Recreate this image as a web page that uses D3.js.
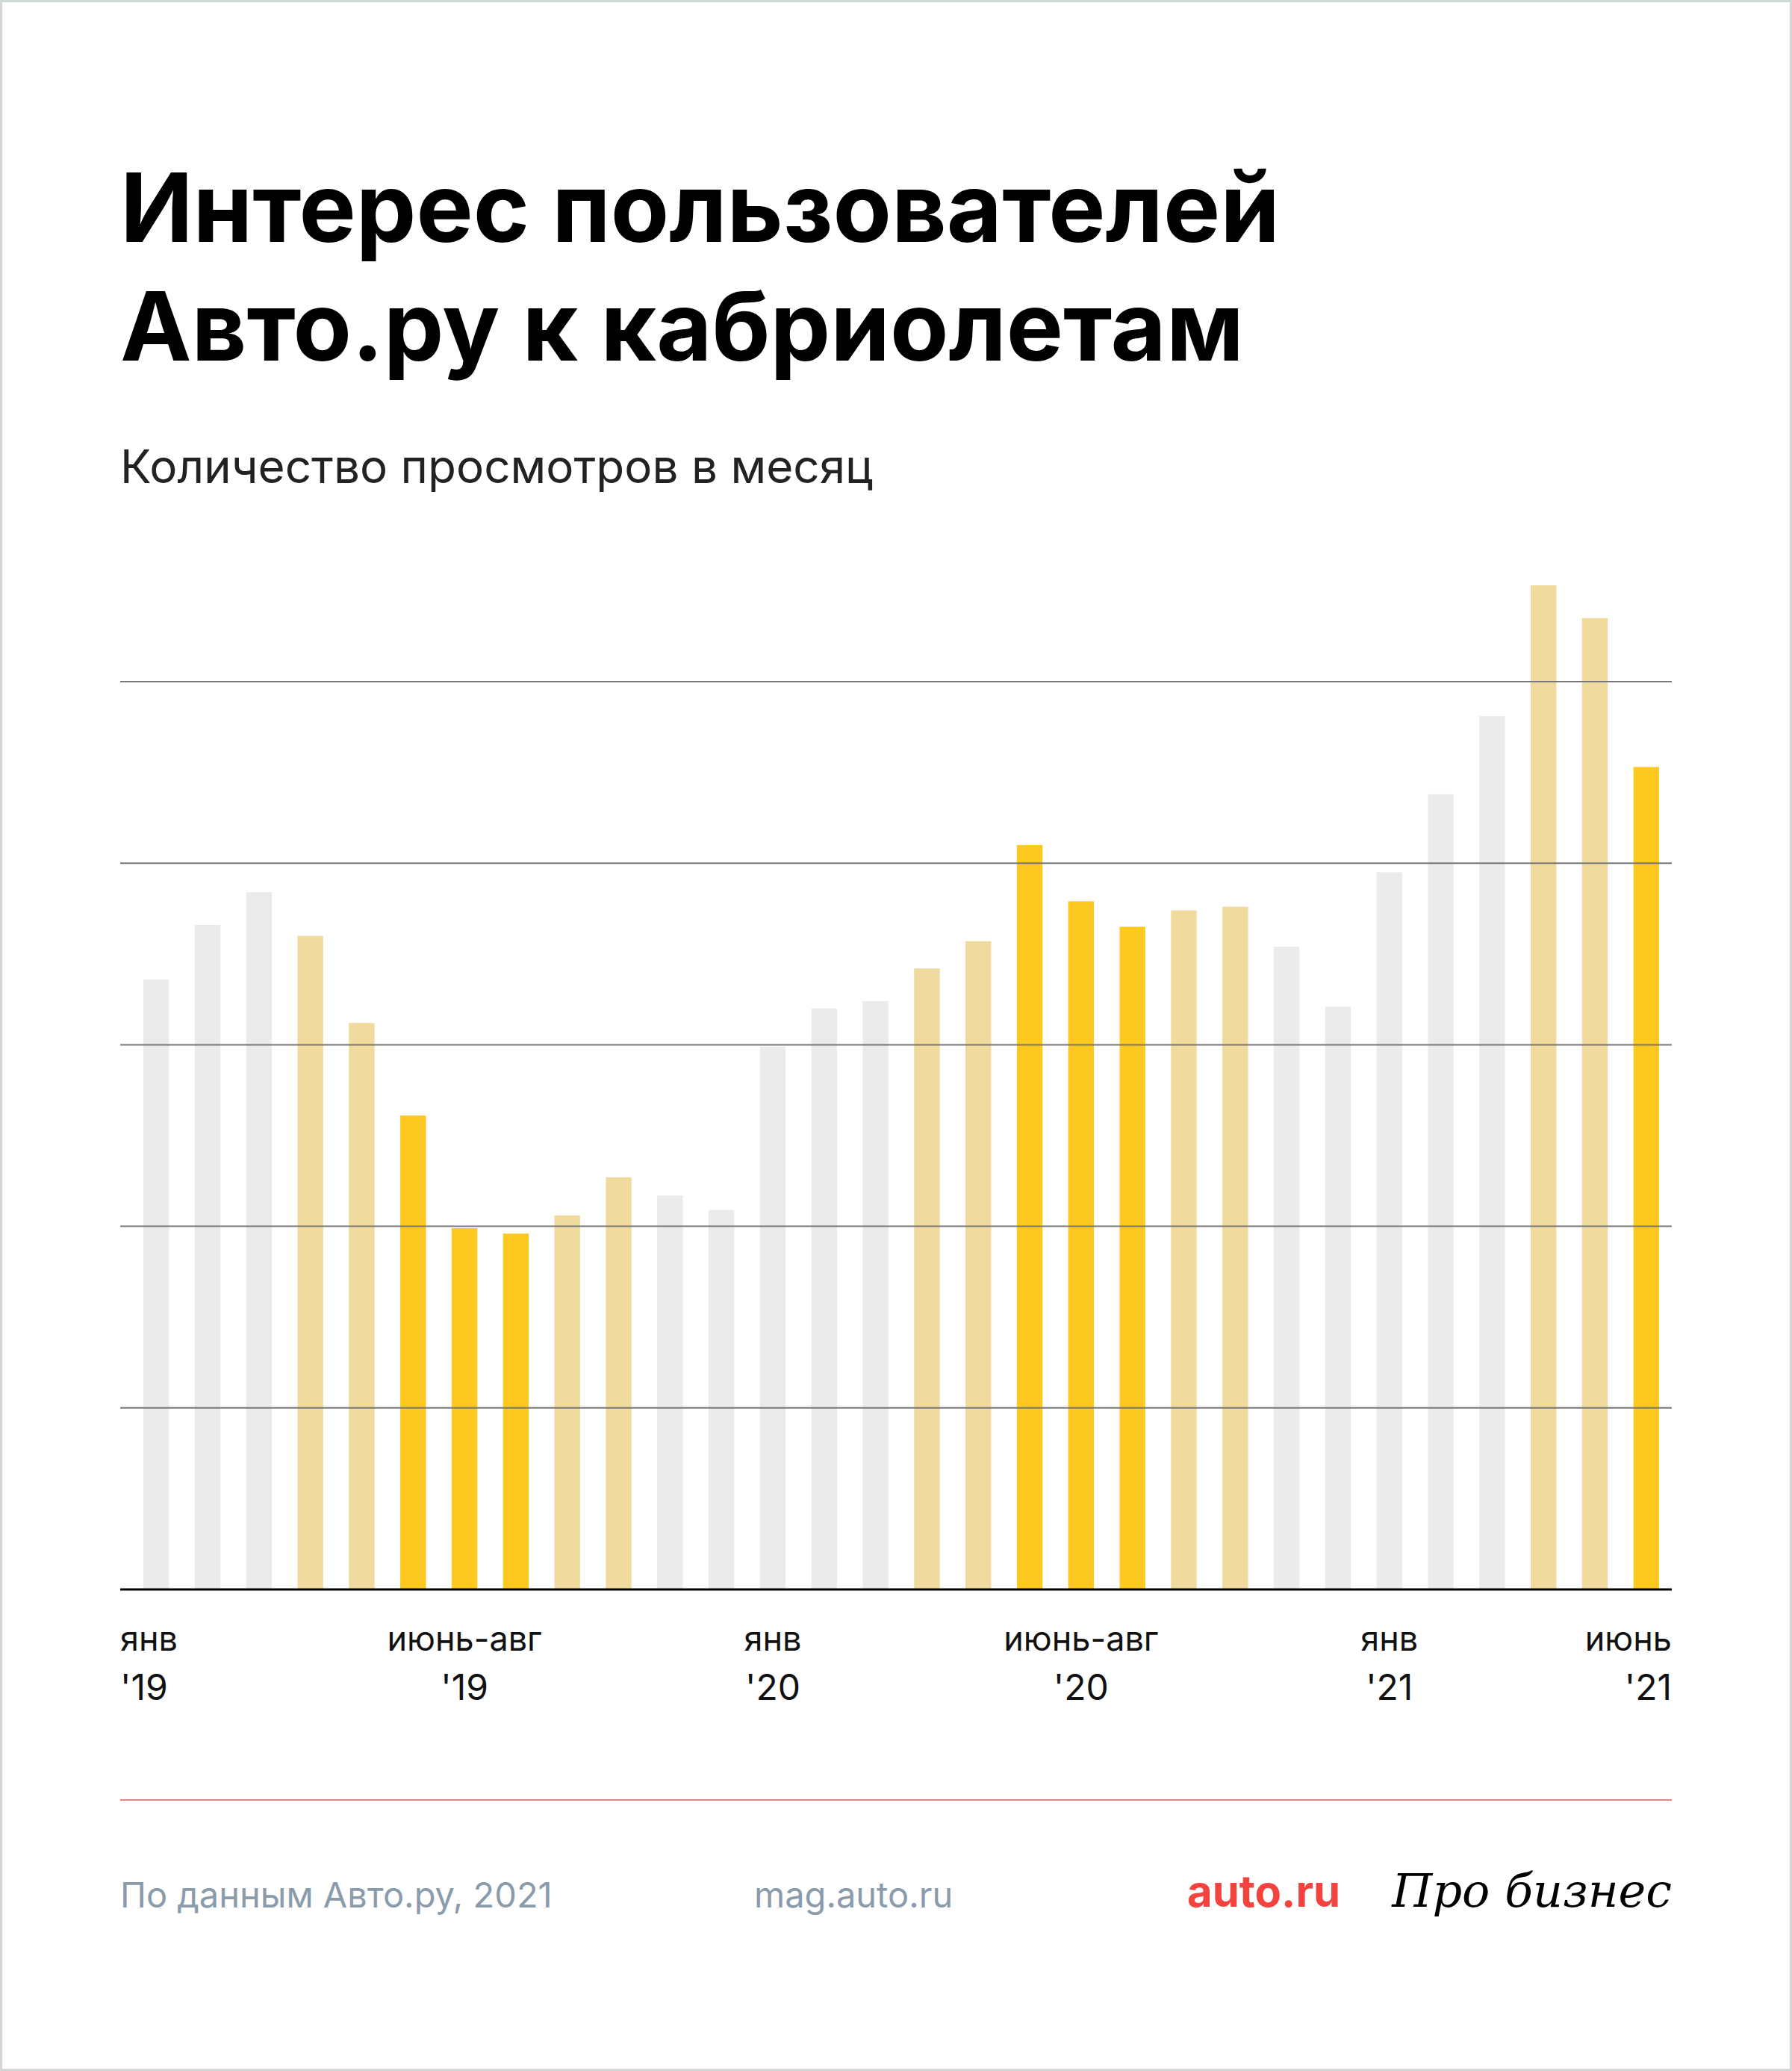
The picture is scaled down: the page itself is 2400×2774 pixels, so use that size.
<!DOCTYPE html>
<html><head><meta charset="utf-8">
<script src="https://cdn.jsdelivr.net/npm/d3@7"></script>
<style>body{margin:0;background:#fff}svg{display:block}</style>
</head><body><svg></svg>
<script>
const months = d3.range(30);
const values = [3.36,3.66,3.84,3.60,3.12,2.61,1.99,1.96,2.06,2.27,2.17,2.09,
  2.99,3.20,3.24,3.42,3.57,4.10,3.79,3.65,3.74,3.76,3.54,3.21,
  3.95,4.38,4.81,5.53,5.35,4.53];
// season: 0 winter-ish, 1 spring/autumn, 2 summer
const seasons = [0,0,0,1,1,2,2,2,1,1,0,0, 0,0,0,1,1,2,2,2,1,1,0,0, 0,0,0,1,1,2];
const ticks = [
  {i:0, a:"янв", b:"'19", anchor:"start"},
  {i:6, a:"июнь-авг", b:"'19", anchor:"middle"},
  {i:12, a:"янв", b:"'20", anchor:"middle"},
  {i:18, a:"июнь-авг", b:"'20", anchor:"middle"},
  {i:24, a:"янв", b:"'21", anchor:"middle"},
  {i:29, a:"июнь", b:"'21", anchor:"end"}
];
const colors = ["#ebebeb","#f0da9e","#fdc921"];

const W = 2400, H = 2774;
const svg = d3.select("svg").attr("width", W).attr("height", H);
const font = "Inter, 'Noto Sans', sans-serif";

svg.append("rect").attr("x",1.5).attr("y",1.5).attr("width",W-3).attr("height",H-3)
  .attr("fill","none").attr("stroke","#cfd8d6").attr("stroke-width",3);

const L = 161, R = 2239, base = 2129;
const x = d3.scaleBand().domain(months).range([192, 2222]).paddingInner(0.5).paddingOuter(0);
const y = d3.scaleLinear().domain([0, 5]).range([base, 913]);

svg.append("text").attr("x",L).attr("y",324).attr("font-family",font).attr("font-weight",700)
  .attr("font-size",128).attr("fill","#000").text("Интерес пользователей");
svg.append("text").attr("x",L).attr("y",483).attr("font-family",font).attr("font-weight",700)
  .attr("font-size",128).attr("fill","#000").text("Авто.ру к кабриолетам");
svg.append("text").attr("x",L).attr("y",647).attr("font-family",font)
  .attr("font-size",62).attr("fill","#222").text("Количество просмотров в месяц");

svg.append("g").selectAll("rect").data(values).join("rect")
  .attr("x",(d,i)=>x(i)).attr("width",x.bandwidth())
  .attr("y",d=>y(d)).attr("height",d=>base-y(d))
  .attr("fill",(d,i)=>colors[seasons[i]]);

svg.append("g").selectAll("line").data([1,2,3,4,5]).join("line")
  .attr("x1",L).attr("x2",R).attr("y1",d=>y(d)).attr("y2",d=>y(d))
  .attr("stroke","#777").attr("stroke-width",2);
svg.append("line").attr("x1",L).attr("x2",R).attr("y1",base).attr("y2",base)
  .attr("stroke","#000").attr("stroke-width",3);

const tg = svg.append("g").attr("font-family",font).attr("font-size",45).attr("fill","#111");
ticks.forEach(t=>{
  const cx = t.anchor==="start" ? L : t.anchor==="end" ? R : x(t.i)+x.bandwidth()/2;
  tg.append("text").attr("x",cx).attr("y",2211).attr("text-anchor",t.anchor).text(t.a);
  tg.append("text").attr("x",cx).attr("y",2277).attr("text-anchor",t.anchor).attr("font-size",48).text(t.b);
});

svg.append("line").attr("x1",L).attr("x2",R).attr("y1",2411).attr("y2",2411)
  .attr("stroke","#e4858a").attr("stroke-width",2);

svg.append("text").attr("x",L).attr("y",2555).attr("font-family",font).attr("font-size",47)
  .attr("fill","#8a9bab").text("По данным Авто.ру, 2021");
svg.append("text").attr("x",1010).attr("y",2555).attr("font-family",font).attr("font-size",47)
  .attr("fill","#8a9bab").text("mag.auto.ru");
svg.append("text").attr("x",1590).attr("y",2554).attr("font-family",font).attr("font-weight",700)
  .attr("font-size",58).attr("fill","#f2433f").text("auto.ru");
svg.append("text").attr("x",R).attr("y",2554).attr("text-anchor","end").attr("font-family","'DejaVu Serif', serif")
  .attr("font-style","italic").attr("font-size",62).attr("fill","#000").text("Про бизнес");
</script></body></html>
